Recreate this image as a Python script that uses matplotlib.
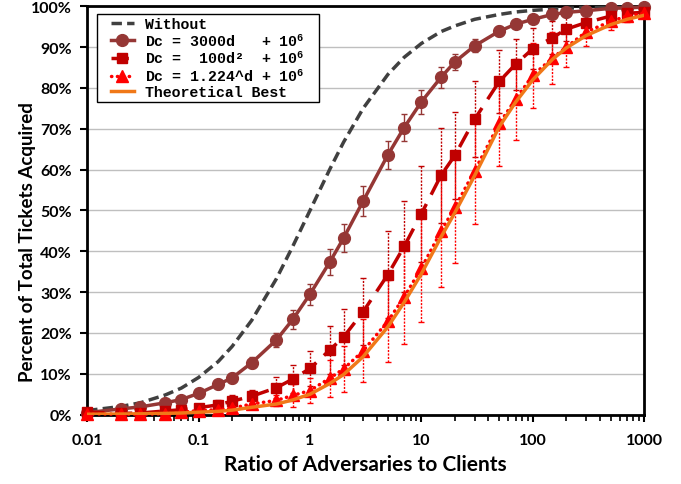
import matplotlib
matplotlib.use('Agg')
import matplotlib.pyplot as plt
from matplotlib.patches import Rectangle
from matplotlib.ticker import FixedLocator, LogLocator, NullFormatter, FixedFormatter

ratio = [0.01, 0.02, 0.03, 0.05, 0.07, 0.1, 0.15, 0.2, 0.3, 0.5, 0.7, 1, 1.5, 2, 3,
         5, 7, 10, 15, 20, 30, 50, 70, 100, 150, 200, 300, 500, 700, 1000]

without = [1.0, 2.0, 2.9, 4.8, 6.5, 9.1, 13.0, 16.7, 23.1, 33.3, 41.2, 50.0, 60.0, 66.7, 75.0,
           83.3, 87.5, 90.9, 93.8, 95.2, 96.8, 98.0, 98.6, 99.0, 99.3, 99.5, 99.7, 99.8, 99.9, 99.9]

dc_linear = [0.5, 1.4, 1.9, 2.9, 3.7, 5.2, 7.4, 9.0, 12.7, 18.3, 23.3, 29.5, 37.3, 43.2, 52.3,
             63.6, 70.3, 76.6, 82.6, 86.4, 90.3, 93.9, 95.6, 96.8, 98.0, 98.5, 98.9, 99.5, 99.6, 99.8]
dc_linear_err = [0.3, 0.3, 0.4, 0.5, 0.6, 0.8, 1.0, 1.2, 1.4, 1.7, 2.3, 2.6, 3.2, 3.4, 3.7,
                 3.4, 3.4, 3.0, 2.6, 2.0, 1.6, 1.2, 1.0, 0.8, 0.6, 0.5, 0.4, 0.3, 0.2, 0.2]

dc_quad = [0.6, 0.3, 0.4, 0.9, 1.2, 1.7, 2.4, 3.3, 4.5, 6.6, 8.7, 11.3, 15.8, 19.0, 25.2,
           34.3, 41.2, 49.2, 58.6, 63.5, 72.3, 81.6, 85.8, 89.6, 92.3, 94.4, 96.0, 97.6, 98.3, 98.5]
dc_quad_err = [0.3, 0.3, 0.4, 0.6, 0.8, 1.0, 1.2, 1.4, 1.6, 2.6, 3.4, 4.3, 5.8, 6.9, 8.2,
               10.6, 11.1, 11.8, 11.6, 10.7, 9.3, 7.8, 6.2, 5.0, 4.0, 3.0, 2.2, 1.5, 1.0, 0.8]

dc_exp = [0.2, 0.1, 0.1, 0.2, 0.6, 1.0, 1.2, 1.6, 2.6, 3.5, 4.7, 5.9, 8.9, 11.2, 15.6,
          22.9, 28.8, 35.9, 44.9, 50.8, 59.7, 71.3, 77.2, 83.1, 87.3, 90.0, 93.7, 96.3, 97.6, 98.3]
dc_exp_err = [0.2, 0.2, 0.3, 0.4, 0.5, 0.6, 0.7, 0.8, 1.0, 1.4, 2.9, 3.0, 4.5, 5.7, 7.7,
              10.1, 11.5, 13.1, 13.7, 13.7, 13.1, 10.5, 10.0, 8.0, 6.3, 4.8, 3.5, 2.2, 1.5, 1.0]

theoretical = [0.1, 0.15, 0.2, 0.3, 0.4, 0.6, 0.8, 1.1, 1.8, 2.6, 3.6, 5.0, 7.6, 9.8, 14.2,
               21.5, 27.5, 34.5, 43.5, 49.5, 58.5, 70.5, 76.5, 82.0, 87.0, 89.8, 92.8, 95.5, 96.8, 97.8]

x_ticks = [0.01, 0.1, 1, 10, 100, 1000]
x_tick_labels = ['0.01', '0.1', '1', '10', '100', '1000']
y_ticks = [0, 10, 20, 30, 40, 50, 60, 70, 80, 90, 100]
y_tick_labels = ['0%', '10%', '20%', '30%', '40%', '50%', '60%', '70%', '80%', '90%', '100%']

labels = ['Without',
          'Dc = 3000d   + 10$^{6}$',
          'Dc =  100d\u00b2  + 10$^{6}$',
          'Dc = 1.224^d + 10$^{6}$',
          'Theoretical Best']

plt.rcParams['mathtext.fontset'] = 'custom'
plt.rcParams['mathtext.rm'] = 'Liberation Mono:bold'
plt.rcParams['mathtext.it'] = 'Liberation Mono:bold'
plt.rcParams['mathtext.bf'] = 'Liberation Mono:bold'

c_without = '#404040'
c_lin = '#953735'
c_quad = '#C00000'
c_exp = '#FF0000'
c_best = '#F07818'

fig = plt.figure(figsize=(6.81, 4.85), dpi=100)
ax = fig.add_axes([0.128, 0.143, 0.818, 0.842])
ax.set_xscale('log')
ax.set_xlim(0.01, 1000)
ax.set_ylim(0, 100)

ax.yaxis.grid(True, color='#BFBFBF', linewidth=1)
ax.set_axisbelow(True)

ax.plot(ratio, without, color=c_without, lw=2.5, dashes=(3, 1.5), label=labels[0], zorder=3)

def ebar(y, err, color, ls):
    _, caps, bars = ax.errorbar(ratio, y, yerr=err, fmt='none', ecolor=color,
                                elinewidth=1, capsize=2.2, capthick=1, zorder=3)
    bars[0].set_linestyle(ls)
    for c in caps:
        c.set_clip_on(False)

ebar(dc_linear, dc_linear_err, c_lin, '-')
ebar(dc_quad, dc_quad_err, c_quad, (0, (1.5, 1)))
ebar(dc_exp, dc_exp_err, c_exp, (0, (1.5, 1)))

ax.plot(ratio, dc_linear, color=c_lin, lw=2.5, marker='o', markersize=8.5,
        label=labels[1], zorder=4, clip_on=False)
ax.plot(ratio, dc_quad, color=c_quad, lw=2.5, dashes=(5, 3), marker='s', markersize=7.5,
        label=labels[2], zorder=4, clip_on=False)
ax.plot(ratio, dc_exp, color=c_exp, lw=2.5, linestyle=(0, (0.1, 1.6)), dash_capstyle='round',
        marker='^', markersize=8.5, label=labels[3], zorder=4, clip_on=False)
ax.plot(ratio, theoretical, color=c_best, lw=2.5, label=labels[4], zorder=5)

for s in ax.spines.values():
    s.set_linewidth(2)
    s.set_color('black')

ax.xaxis.set_major_locator(FixedLocator(x_ticks))
ax.xaxis.set_major_formatter(FixedFormatter(x_tick_labels))
ax.xaxis.set_minor_locator(LogLocator(base=10, subs=range(2, 10)))
ax.xaxis.set_minor_formatter(NullFormatter())
ax.yaxis.set_major_locator(FixedLocator(y_ticks))
ax.yaxis.set_major_formatter(FixedFormatter(y_tick_labels))

ax.tick_params(axis='x', which='major', direction='out', length=5, width=1.5, pad=8)
ax.tick_params(axis='x', which='minor', direction='out', length=4, width=1.2)
ax.tick_params(axis='y', which='major', direction='out', length=5, width=1.5, pad=6)

for t in ax.get_xticklabels() + ax.get_yticklabels():
    t.set_fontfamily('Lato')
    t.set_fontweight('bold')
    t.set_fontsize(11.5)

ax.set_xlabel('Ratio of Adversaries to Clients', fontfamily='Lato', fontweight='bold',
              fontsize=15, labelpad=5)
ax.set_ylabel('Percent of Total Tickets Acquired', fontfamily='Lato', fontweight='bold',
              fontsize=13.5)
ax.yaxis.set_label_coords(-0.092, 0.425)

# legend frame (wider horizontal padding than vertical, as in the reference)
frame = Rectangle((0.018, 0.766), 0.3985, 0.215, transform=ax.transAxes,
                  facecolor='white', edgecolor='black', linewidth=1, zorder=9)
ax.add_patch(frame)
leg = ax.legend(loc='upper left', bbox_to_anchor=(0.042, 0.974), frameon=False,
                handlelength=1.55, borderpad=0.0, borderaxespad=0.0,
                labelspacing=0.08, handletextpad=0.75,
                prop={'family': 'Liberation Mono', 'weight': 'bold', 'size': 10.7})
leg.set_zorder(10)

fig.savefig('out.png', dpi=100)
